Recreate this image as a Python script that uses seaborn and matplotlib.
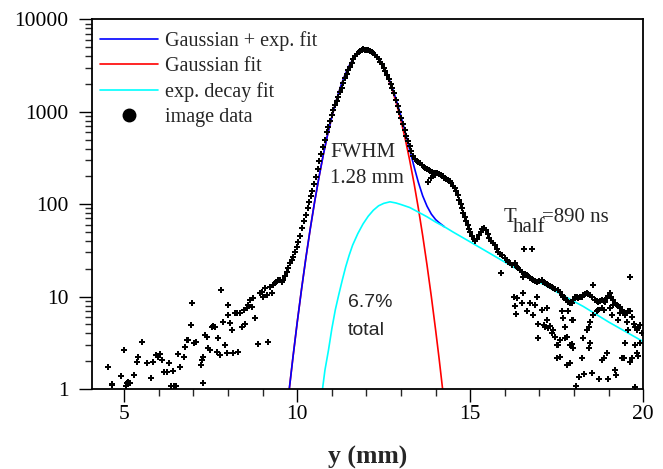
import matplotlib
matplotlib.use("Agg")
import matplotlib.pyplot as plt
from matplotlib.lines import Line2D
from matplotlib.ticker import FixedLocator, FixedFormatter, LogLocator, NullFormatter
import pandas as pd
import seaborn as sns

# image data, left tail (scattered low counts)
tail_left_x = [4.52, 4.64, 4.65, 4.92, 5.00, 5.05, 5.07, 5.10, 5.16, 5.28, 5.36, 5.40, 5.52,
               5.65, 5.76, 5.84, 5.92, 5.98, 6.03, 6.08, 6.16, 6.24, 6.29, 6.40, 6.34, 6.43,
               6.50, 6.56, 6.62, 6.72, 6.76, 6.81, 6.85, 6.93, 6.97, 7.02, 7.07, 7.21, 7.26,
               7.28, 7.28, 7.33, 7.38, 7.43, 7.48, 7.53, 7.57, 7.62, 7.67, 7.72, 7.77, 7.81,
               7.86, 7.91, 7.96, 8.01, 8.01, 8.05, 8.10, 8.15, 8.20, 8.27, 8.29, 8.34, 8.39,
               8.46, 8.49, 8.54, 8.59, 8.63, 8.68, 8.73, 8.78, 8.87, 8.92, 8.97, 9.02, 9.07,
               9.12, 9.16, 9.21, 9.26, 9.31, 9.36, 9.40, 9.45, 9.50, 9.55, 9.60, 9.64]
tail_left_y = [1.74, 1.12, 1.10, 1.38, 2.64, 1.09, 1.15, 1.18, 1.15, 1.42, 1.98, 2.20, 3.20,
               1.93, 1.33, 1.98, 2.33, 2.24, 2.39, 2.06, 1.53, 1.53, 1.93, 1.57, 1.09, 1.09,
               1.09, 2.37, 1.74, 2.23, 2.85, 3.39, 3.39, 4.93, 8.46, 3.17, 3.25, 1.82, 2.06,
               2.24, 1.15, 3.84, 3.68, 2.76, 2.64, 4.72, 4.84, 4.72, 2.53, 3.54, 2.33, 11.8,
               5.35, 2.99, 2.43, 8.10, 6.30, 5.14, 4.35, 2.43, 6.60, 6.70, 2.53, 6.60, 4.72,
               7.16, 5.00, 7.47, 8.10, 9.20, 7.80, 9.58, 5.80, 3.07, 10.9, 11.3, 10.0, 12.3,
               10.4, 3.20, 12.8, 10.8, 13.4, 13.9, 14.5, 15.1, 15.3, 14.5, 15.1, 16.5]

# image data, central peak and shoulder
peak_x = [9.69, 9.74, 9.79, 9.84, 9.89, 9.93, 9.98, 10.03, 10.08, 10.14, 10.19, 10.25, 10.30,
          10.34, 10.39, 10.44, 10.49, 10.54, 10.59, 10.64, 10.69, 10.74, 10.79, 10.85, 10.90,
          10.95, 11.00, 11.04, 11.09, 11.14, 11.19, 11.24, 11.28, 11.33, 11.38, 11.43, 11.48,
          11.52, 11.57, 11.62, 11.67, 11.72, 11.77, 11.81, 11.86, 11.91, 11.95, 12.00, 12.05,
          12.10, 12.15, 12.20, 12.25, 12.30, 12.35, 12.40, 12.45, 12.50, 12.55, 12.60, 12.65,
          12.70, 12.75, 12.80, 12.85, 12.90, 12.95, 13.00, 13.05, 13.10, 13.15, 13.20, 13.25,
          13.30, 13.35, 13.40, 13.45, 13.50, 13.55, 13.60, 13.65, 13.70, 13.75, 13.80, 13.85,
          13.90, 13.95, 14.00, 14.05, 14.10, 14.15, 14.20, 14.25, 14.30, 14.35, 14.40, 14.45,
          14.50, 14.55, 14.60, 14.64, 14.68, 14.72, 14.76, 14.80, 14.84, 14.88, 14.92, 14.96,
          15.00, 15.05, 15.10, 15.15, 15.20, 15.25, 15.30, 15.35, 15.40, 15.45, 15.50, 15.55,
          15.60, 15.65, 15.70, 13.79, 13.86, 13.92, 13.98]
peak_y = [18.6, 20.2, 22.9, 25.0, 27.0, 30.6, 34.7, 39.0, 45.0, 55.0, 65.0, 76.0, 90.0,
          106, 122, 140, 165, 195, 240, 290, 350, 420, 500, 600, 690,
          800, 930, 1047, 1180, 1300, 1456, 1650, 1820, 2034, 2300, 2580, 2850,
          3076, 3400, 3700, 3980, 4250, 4450, 4580, 4680, 4720, 4700, 4690, 4650,
          4550, 4450, 4300, 4150, 3950, 3700, 3480, 3250, 3000, 2750, 2500, 2250,
          2020, 1800, 1580, 1350, 1160, 1000, 860, 740, 640, 550, 480, 430,
          380, 335, 310, 295, 285, 277, 265, 255, 248, 240, 234, 228,
          222, 218, 216, 217, 214, 208, 200, 193, 187, 183, 178, 168,
          158, 148, 138, 125, 112, 100, 90, 80, 72, 65, 59, 54,
          50, 45, 42, 40, 42, 46, 50, 54, 55, 52, 47, 43,
          40, 38, 36, 175, 190, 200, 207]

# image data, right tail (upper band along the decay fit)
tail_right_x = [15.76, 15.81, 15.86, 15.91, 16.00, 16.05, 16.10, 16.15, 16.20, 16.29, 16.34,
                16.39, 16.44, 16.49, 16.53, 16.58, 16.63, 16.68, 16.73, 16.78, 16.82, 16.87,
                16.92, 16.98, 17.06, 17.11, 17.16, 17.21, 17.25, 17.30, 17.35, 17.40, 17.45,
                17.54, 17.59, 17.64, 17.69, 17.74, 17.78, 17.83, 17.88, 17.93, 17.98, 18.03,
                18.07, 18.12, 18.17, 18.22, 18.27, 18.31, 18.36, 18.41, 18.46, 18.51, 18.56,
                18.60, 18.65, 18.70, 18.75, 18.80, 18.85, 18.89, 18.94, 18.99, 19.04, 19.08,
                19.13, 19.18, 19.23, 19.28, 19.33, 19.38, 19.42, 19.47, 19.52, 19.57, 19.62,
                19.62, 19.67, 19.72, 19.76, 19.81, 19.86, 19.90, 19.95, 16.55, 16.78]
tail_right_y = [33.0, 30.6, 29.0, 28.0, 26.0, 25.0, 23.9, 23.0, 22.0, 22.9, 21.0,
                20.2, 19.5, 18.6, 16.4, 17.5, 17.1, 16.5, 15.8, 15.5, 15.1, 14.8,
                14.5, 14.8, 15.1, 14.5, 13.9, 13.6, 13.4, 13.1, 12.8, 12.4, 12.0,
                11.8, 11.2, 10.4, 10.0, 9.6, 9.2, 8.8, 8.6, 8.46, 9.2, 10.0,
                9.8, 9.6, 9.8, 10.0, 10.4, 10.6, 10.8, 10.6, 10.4, 9.8, 13.4,
                9.2, 9.0, 8.8, 9.0, 9.2, 9.0, 8.8, 9.6, 10.2, 10.8, 10.0,
                9.2, 8.6, 8.1, 7.9, 7.77, 7.2, 6.8, 6.3, 6.6, 6.9, 6.9,
                16.4, 6.0, 5.1, 4.7, 4.35, 4.6, 4.9, 4.0, 32.8, 32.8]

# image data, right tail (lower scattered cloud)
cloud_x = [15.88, 16.25, 16.34, 16.53, 16.29, 16.32, 16.49, 16.63, 16.73, 16.81, 16.92, 16.87,
           16.97, 16.97, 17.07, 17.12, 17.16, 17.21, 17.21, 17.26, 17.30, 17.35, 17.40, 17.45,
           17.50, 17.54, 17.59, 17.64, 17.69, 17.74, 17.74, 17.79, 17.83, 17.88, 17.93, 17.98,
           17.93, 17.98, 17.50, 17.59, 17.79, 17.88, 18.05, 18.15, 18.29, 18.22, 18.27, 18.36,
           18.42, 18.46, 18.46, 18.42, 18.51, 18.56, 18.66, 18.70, 18.80, 18.85, 18.73, 18.80,
           18.85, 18.99, 18.94, 19.04, 19.09, 19.13, 19.18, 19.28, 19.33, 19.38, 19.43, 19.47,
           19.52, 19.57, 19.62, 19.67, 19.76, 19.81, 19.86, 19.90, 19.76, 19.20]
cloud_y = [18.2, 10.0, 9.6, 10.8, 7.9, 6.5, 8.6, 6.9, 8.5, 6.3, 10.0, 8.1,
           5.1, 3.54, 7.2, 4.9, 4.72, 7.5, 5.6, 4.54, 4.8, 4.0, 4.35, 3.68,
           2.99, 2.99, 3.39, 6.9, 5.8, 4.72, 3.54, 3.68, 6.9, 3.0, 5.58, 5.6,
           3.1, 2.75, 2.15, 2.2, 1.82, 1.9, 1.09, 1.34, 1.45, 2.15, 3.54, 4.35,
           4.72, 5.35, 3.12, 2.75, 1.5, 6.3, 6.9, 7.2, 7.5, 7.2, 1.27, 2.06,
           2.15, 1.27, 2.43, 7.5, 6.3, 8.1, 1.6, 5.6, 6.6, 2.15, 2.15, 3.12,
           5.35, 4.35, 1.98, 2.15, 2.99, 2.43, 2.3, 3.12, 1.04, 1.4]

# fit curves
gauss_x = [9.77, 9.875, 10.0, 10.125, 10.25, 10.375, 10.5, 10.625, 10.75, 10.875, 11.0,
           11.125, 11.25, 11.375, 11.5, 11.625, 11.75, 11.875, 12.0, 12.125, 12.25, 12.375,
           12.5, 12.625, 12.75, 12.875, 13.0, 13.125, 13.25, 13.375, 13.5, 13.625, 13.75,
           13.875, 14.0, 14.1, 14.2]
gauss_y = [1.0, 2.19, 5.3, 12.1, 26.3, 53.9, 105, 193, 338, 560, 879,
           1307, 1843, 2461, 3115, 3736, 4247, 4574, 4670, 4515, 4138, 3595,
           2960, 2307, 1706, 1195, 793, 499, 297, 168, 90, 45.6, 21.9,
           9.98, 4.3, 2.12, 1.0]

decay_x = [10.73, 10.8, 10.9, 11.0, 11.1, 11.2, 11.3, 11.4, 11.5, 11.6, 11.75, 11.9, 12.05,
           12.2, 12.35, 12.5, 12.68, 12.85, 13.0, 13.25, 13.5, 13.75, 14.0, 14.25, 14.5,
           15.0, 16.05, 16.73, 17.5, 18.27, 19.0, 20.0]
decay_y = [1.0, 1.6, 2.6, 4.5, 7.2, 10.5, 15.0, 21.0, 28.0, 36.0, 48.0, 61.0, 74.0,
           86.0, 96.0, 102, 106, 103, 99, 92, 82, 73, 64, 57, 50,
           39, 23, 16.4, 11.2, 7.8, 5.3, 3.25]

total_x = [9.77, 9.875, 10.0, 10.125, 10.25, 10.375, 10.5, 10.625, 10.75, 10.875, 11.0,
           11.125, 11.25, 11.375, 11.5, 11.625, 11.75, 11.875, 12.0, 12.125, 12.25, 12.375,
           12.5, 12.625, 12.75, 12.875, 13.0, 13.125, 13.25, 13.375, 13.5, 13.625, 13.75,
           13.875, 14.0, 14.1, 14.25]
total_y = [1.0, 2.19, 5.3, 12.1, 26.3, 53.9, 105, 193, 339, 562, 884,
           1315, 1857, 2481, 3148, 3774, 4299, 4632, 4742, 4595, 4228, 3692,
           3062, 2412, 1812, 1297, 891, 594, 389, 255, 172, 123, 95,
           78, 68, 63, 57]

y_ticks = [1, 10, 100, 1000, 10000]
y_tick_labels = ["1", "10", "100", "1000", "10000"]
x_ticks = [5, 10, 15, 20]


def plot():
    sns.set_style("ticks")
    plt.rcParams['font.family'] = ['Liberation Serif', 'DejaVu Serif']

    points = pd.DataFrame({
        "y_mm": tail_left_x + peak_x + tail_right_x + cloud_x,
        "counts": tail_left_y + peak_y + tail_right_y + cloud_y,
    })

    fig = plt.figure(figsize=(6.63, 4.69), dpi=100)
    ax = fig.add_axes([0.1383, 0.1706, 0.832, 0.7882])

    # red first so the blue sum curve sits on top where they overlap
    sns.lineplot(ax=ax, x=gauss_x, y=gauss_y, color="#ff0000", lw=1.2, sort=False)
    sns.lineplot(ax=ax, x=total_x, y=total_y, color="#0000ff", lw=1.2, sort=False)
    sns.lineplot(ax=ax, x=decay_x, y=decay_y, color="#00ffff", lw=1.2, sort=False)
    sns.scatterplot(ax=ax, data=points, x="y_mm", y="counts", marker="P", s=22,
                    color="black", linewidth=0, zorder=5)

    ax.set_yscale("log")
    ax.set_xlim(4.06, 20)
    ax.set_ylim(1, 10000)

    ax.xaxis.set_major_locator(FixedLocator(x_ticks))
    ax.xaxis.set_minor_locator(FixedLocator(range(5, 21)))
    ax.yaxis.set_major_locator(FixedLocator(y_ticks))
    ax.yaxis.set_major_formatter(FixedFormatter(y_tick_labels))
    ax.yaxis.set_minor_locator(LogLocator(base=10, subs=range(2, 10)))
    ax.yaxis.set_minor_formatter(NullFormatter())

    ax.tick_params(which="major", direction="out", length=9.5, width=1.0,
                   labelsize=15.5, colors="black")
    ax.tick_params(which="minor", direction="out", length=4.7, width=1.0)
    ax.tick_params(axis="x", which="major", pad=2)
    ax.tick_params(axis="y", which="major", pad=7)
    for side in ["left", "right", "top", "bottom"]:
        ax.spines[side].set_visible(True)
        ax.spines[side].set_linewidth(1.3)
        ax.spines[side].set_color("black")

    ax.set_xlabel("y (mm)", fontsize=18.5, fontweight="bold", labelpad=16)
    ax.set_ylabel("")

    ax.text(10.95, 324, "FWHM", fontsize=15, va="baseline", ha="left")
    ax.text(10.95, 170, "1.28 mm", fontsize=15, va="baseline", ha="left")
    ax.text(11.47, 7.72, "6.7%", fontsize=14, va="baseline", ha="left",
            family=["Liberation Sans", "DejaVu Sans"])
    ax.text(11.47, 3.84, "total", fontsize=14, va="baseline", ha="left",
            family=["Liberation Sans", "DejaVu Sans"])
    ax.text(15.95, 64.7, "T", fontsize=15, va="baseline", ha="left")
    ax.text(16.24, 50.4, "half", fontsize=15, va="baseline", ha="left")
    ax.text(17.06, 64.7, "=890 ns", fontsize=15, va="baseline", ha="left")

    handles = [
        Line2D([], [], color="#0000ff", lw=1.2),
        Line2D([], [], color="#ff0000", lw=1.2),
        Line2D([], [], color="#00ffff", lw=1.2),
        Line2D([], [], color="black", marker="o", markersize=9, lw=0),
    ]
    labels = ["Gaussian + exp. fit", "Gaussian fit", "exp. decay fit", "image data"]
    ax.legend(handles, labels, loc="upper left", bbox_to_anchor=(0.015, 0.968),
              frameon=False, fontsize=14.5, handlelength=2.9, handletextpad=0.35,
              labelspacing=0.3, borderpad=0, borderaxespad=0)

    plt.savefig("out.png", dpi=100)


if __name__ == '__main__':
    plot()
